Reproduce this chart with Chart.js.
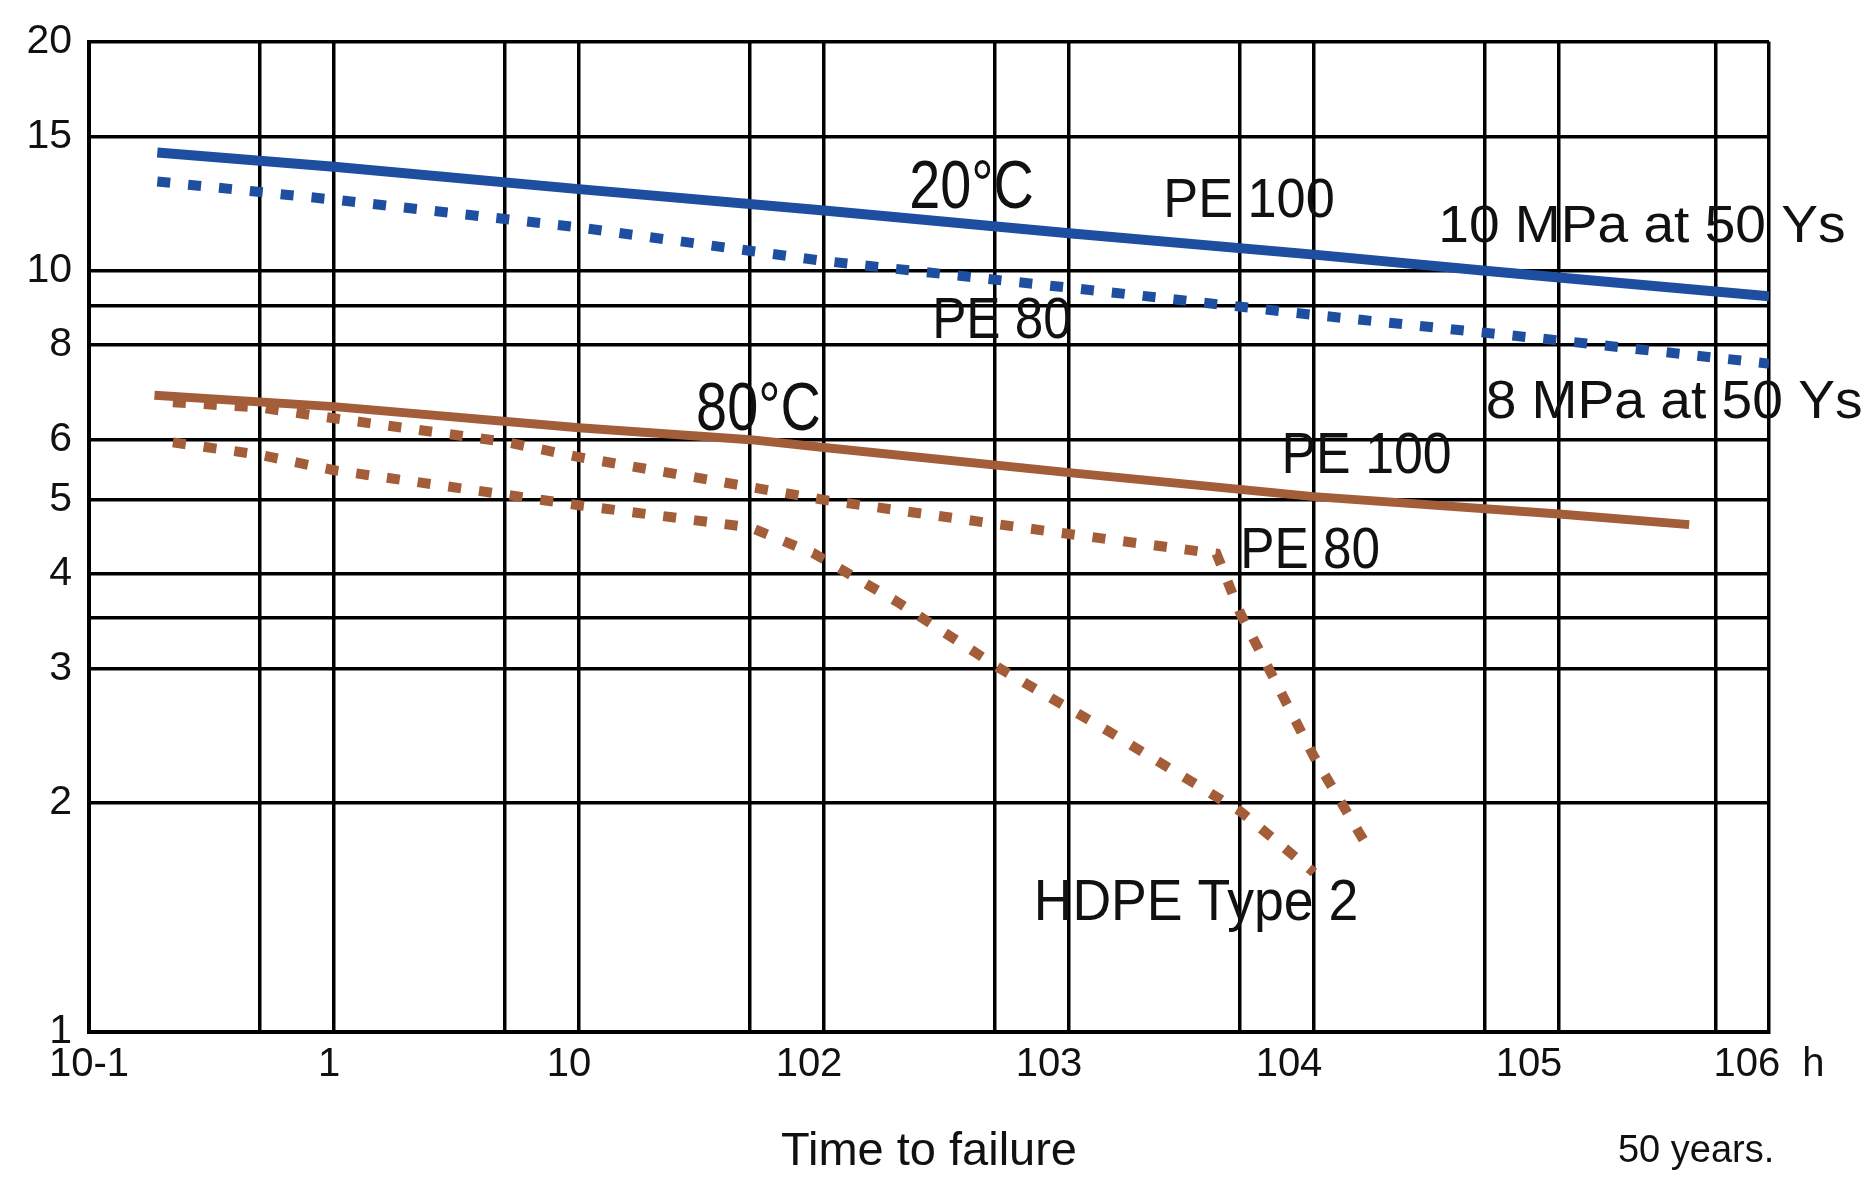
<!DOCTYPE html>
<html>
<head>
<meta charset="utf-8">
<script src="https://cdn.jsdelivr.net/npm/chart.js@4.4.1/dist/chart.umd.min.js"></script>
<style>
  html, body { margin: 0; padding: 0; background: #fff; }
</style>
</head>
<body>
<canvas id="creepChart" width="1871" height="1180"></canvas>
<script>
// time to failure (h) vs stress (MPa)
const pe100At20Hours = [0.19, 1, 10, 100, 1000, 10000, 50000, 100000, 720000];
const pe100At20Stress = [14.3, 13.7, 12.8, 12.0, 11.2, 10.5, 10.0, 9.8, 9.26];

const pe80At20Hours = [0.19, 1, 10, 100, 1000, 10000, 100000, 720000];
const pe80At20Stress = [13.1, 12.4, 11.4, 10.3, 9.5, 8.75, 8.1, 7.55];

const pe100At80Hours = [0.185, 1, 10, 50, 100, 1000, 10000, 100000, 340000];
const pe100At80Stress = [6.86, 6.63, 6.22, 6.0, 5.86, 5.43, 5.05, 4.79, 4.64];

const pe80At80Hours = [0.22, 0.5, 1, 5, 10, 50, 100, 500, 1000, 4000, 5000, 10000, 17100];
const pe80At80Stress = [6.72, 6.61, 6.4, 5.96, 5.69, 5.2, 5.0, 4.65, 4.51, 4.25, 3.55, 2.3, 1.72];

const hdpeHours = [0.22, 0.5, 1, 5, 10, 30, 50, 90, 200, 525, 1430, 5000, 10000];
const hdpeStress = [5.95, 5.73, 5.47, 5.08, 4.92, 4.7, 4.6, 4.26, 3.67, 3.0, 2.49, 1.95, 1.62];

// axes
const hourGrid = [0.1, 0.5, 1, 5, 10, 50, 100, 500, 1000, 5000, 10000, 50000, 100000, 438000, 720000];
const hourTicks = [0.1, 1, 10, 100, 1000, 10000, 100000, 1000000];
const hourLabels = ['10-1', '1', '10', '102', '103', '104', '105', '106  h'];
const stressGrid = [1, 2, 3, 3.5, 4, 5, 6, 8, 9, 10, 15, 20];
const stressLabels = [1, 2, 3, 4, 5, 6, 8, 10, 15, 20];
const fiftyYears = 438000;

// text written on the plot, placed in data units (sx = horizontal squeeze of the lettering)
const notes = [
  { text: '20°C', x: 400, y: 12.8, size: 68, sx: 0.82 },
  { text: 'PE 100', x: 5430, y: 12.3, size: 55, sx: 0.95 },
  { text: '10 MPa at 50 Ys', x: 218000, y: 11.4, size: 51, sx: 1.08 },
  { text: 'PE 80', x: 533, y: 8.56, size: 57, sx: 0.9 },
  { text: '8 MPa at 50 Ys', x: 295000, y: 6.7, size: 53, sx: 1.04 },
  { text: '80°C', x: 54, y: 6.54, size: 68, sx: 0.82 },
  { text: 'PE 100', x: 16400, y: 5.68, size: 57, sx: 0.91 },
  { text: 'PE 80', x: 9640, y: 4.27, size: 57, sx: 0.9 },
  { text: 'HDPE Type 2', x: 3300, y: 1.47, size: 57, sx: 0.94 }
];

const FONT = '"Liberation Sans", Arial, Helvetica, sans-serif';
const BLUE = '#1d4ea0';
const BROWN = '#a35d38';
const INK = '#000';

Chart.defaults.font.family = FONT;

const pts = (xs, ys) => xs.map((x, i) => ({ x: x, y: ys[i] }));

const notesPlugin = {
  id: 'notes',
  afterDatasetsDraw(chart) {
    const { ctx, chartArea } = chart;
    const x = chart.scales.x, y = chart.scales.y;
    ctx.save();
    ctx.fillStyle = '#111';
    ctx.textAlign = 'center';
    ctx.textBaseline = 'middle';
    notes.forEach(n => {
      ctx.save();
      ctx.translate(x.getPixelForValue(n.x), y.getPixelForValue(n.y));
      ctx.scale(n.sx, 1);
      ctx.font = n.size + 'px ' + FONT;
      ctx.fillText(n.text, 0, 0);
      ctx.restore();
    });
    ctx.font = '38px ' + FONT;
    ctx.fillText('50 years.', x.getPixelForValue(fiftyYears) - 20, chartArea.bottom + 120);
    ctx.restore();
  }
};

const ctx = document.getElementById('creepChart').getContext('2d');

const chart = new Chart(ctx, {
  type: 'line',
  data: {
    datasets: [
      { label: 'PE 100 20°C', data: pts(pe100At20Hours, pe100At20Stress), borderColor: BLUE, borderWidth: 10 },
      { label: 'PE 80 20°C', data: pts(pe80At20Hours, pe80At20Stress), borderColor: BLUE, borderWidth: 10, borderDash: [13, 18] },
      { label: 'PE 100 80°C', data: pts(pe100At80Hours, pe100At80Stress), borderColor: BROWN, borderWidth: 9 },
      { label: 'PE 80 80°C', data: pts(pe80At80Hours, pe80At80Stress), borderColor: BROWN, borderWidth: 10, borderDash: [13, 18] },
      { label: 'HDPE Type 2 80°C', data: pts(hdpeHours, hdpeStress), borderColor: BROWN, borderWidth: 10, borderDash: [13, 18] }
    ]
  },
  options: {
    responsive: false,
    animation: false,
    devicePixelRatio: 1,
    layout: { padding: { top: 39, right: 102, left: 0, bottom: 0 } },
    elements: {
      point: { radius: 0 },
      line: { tension: 0, borderCapStyle: 'butt', fill: false }
    },
    plugins: {
      legend: { display: false },
      tooltip: { enabled: false }
    },
    scales: {
      x: {
        type: 'logarithmic',
        position: 'bottom',
        weight: 0,
        min: 0.1,
        max: 720000,
        afterBuildTicks: s => { s.ticks = hourGrid.map(v => ({ value: v })); },
        afterFit: s => { s.height = 0; },
        ticks: { display: false },
        grid: { color: INK, lineWidth: 3.5, drawTicks: false },
        border: { color: INK, width: 4 }
      },
      xLab: {
        type: 'logarithmic',
        position: 'bottom',
        weight: 1,
        min: 0.1,
        max: 1000000,
        afterBuildTicks: s => { s.ticks = hourTicks.map(v => ({ value: v })); },
        afterFit: s => { s.height = 148; },
        grid: { display: false, drawTicks: false },
        border: { display: false },
        ticks: {
          autoSkip: false,
          maxRotation: 0,
          padding: 9,
          color: '#111',
          font: { size: 40 },
          callback: (v, i) => hourLabels[i]
        },
        title: {
          display: true,
          text: 'Time to failure',
          color: '#111',
          font: { size: 47 },
          padding: { top: 0, bottom: 0 }
        }
      },
      y: {
        type: 'logarithmic',
        min: 1,
        max: 20,
        afterBuildTicks: s => { s.ticks = stressGrid.map(v => ({ value: v })); },
        afterFit: s => { s.width = 89; },
        ticks: {
          autoSkip: false,
          padding: 17,
          color: '#111',
          font: { size: 41 },
          callback: v => stressLabels.includes(v) ? String(v) : ''
        },
        grid: { color: INK, lineWidth: 3.5, drawTicks: false },
        border: { color: INK, width: 4 }
      }
    }
  },
  plugins: [notesPlugin]
});
</script>
</body>
</html>
